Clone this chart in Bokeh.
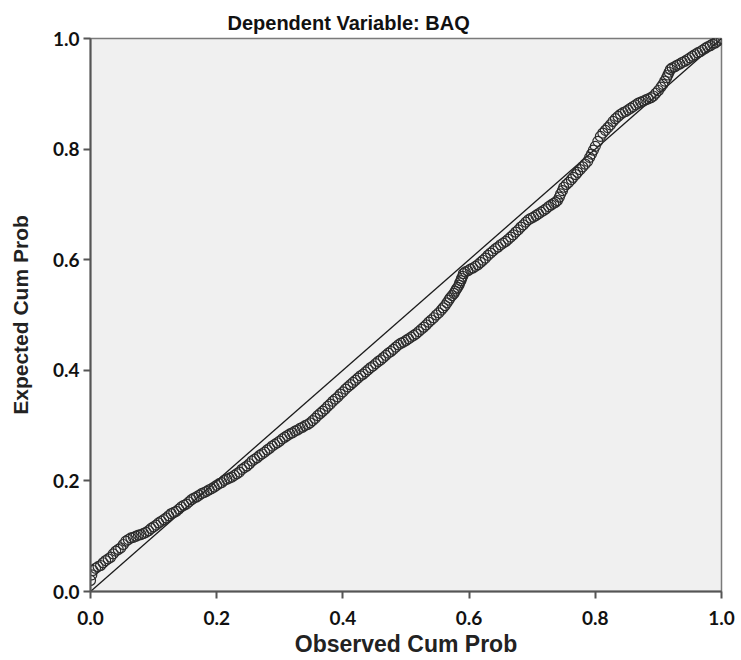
from bokeh.plotting import figure
from bokeh.models import Range1d, FixedTicker
from bokeh.embed import file_html
from bokeh.resources import INLINE

title_text = "Dependent Variable: BAQ"
x_label = "Observed Cum Prob"
y_label = "Expected Cum Prob"
tick_values = [0.0, 0.2, 0.4, 0.6, 0.8, 1.0]
tick_labels = ["0.0", "0.2", "0.4", "0.6", "0.8", "1.0"]

observed = [
    0.000, 0.002, 0.004, 0.008, 0.012, 0.016, 0.020, 0.024, 0.028, 0.032,
    0.036, 0.040, 0.044, 0.048, 0.052, 0.056, 0.060, 0.064, 0.068, 0.072,
    0.076, 0.080, 0.084, 0.088, 0.092, 0.096, 0.100, 0.104, 0.108, 0.112,
    0.116, 0.120, 0.124, 0.128, 0.132, 0.136, 0.140, 0.144, 0.148, 0.152,
    0.156, 0.160, 0.164, 0.168, 0.172, 0.176, 0.180, 0.184, 0.188, 0.192,
    0.196, 0.200, 0.204, 0.208, 0.212, 0.216, 0.220, 0.224, 0.228, 0.232,
    0.236, 0.240, 0.244, 0.248, 0.252, 0.256, 0.260, 0.264, 0.268, 0.272,
    0.276, 0.280, 0.284, 0.288, 0.292, 0.296, 0.300, 0.304, 0.308, 0.312,
    0.316, 0.320, 0.324, 0.328, 0.332, 0.336, 0.340, 0.344, 0.348, 0.352,
    0.356, 0.360, 0.364, 0.368, 0.372, 0.376, 0.380, 0.384, 0.388, 0.392,
    0.396, 0.400, 0.404, 0.408, 0.412, 0.416, 0.420, 0.424, 0.428, 0.432,
    0.436, 0.440, 0.444, 0.448, 0.452, 0.456, 0.460, 0.464, 0.468, 0.472,
    0.476, 0.480, 0.484, 0.488, 0.492, 0.496, 0.500, 0.504, 0.508, 0.512,
    0.516, 0.520, 0.524, 0.528, 0.532, 0.536, 0.540, 0.544, 0.548, 0.552,
    0.556, 0.559, 0.562, 0.565, 0.568, 0.570, 0.573, 0.576, 0.578, 0.580,
    0.582, 0.584, 0.585, 0.587, 0.588, 0.590, 0.591, 0.594, 0.598, 0.602,
    0.606, 0.610, 0.614, 0.618, 0.622, 0.626, 0.630, 0.634, 0.638, 0.642,
    0.646, 0.650, 0.654, 0.658, 0.662, 0.666, 0.670, 0.674, 0.678, 0.682,
    0.686, 0.690, 0.694, 0.698, 0.702, 0.706, 0.710, 0.714, 0.718, 0.722,
    0.726, 0.730, 0.734, 0.737, 0.740, 0.743, 0.745, 0.748, 0.750, 0.754,
    0.758, 0.762, 0.765, 0.769, 0.772, 0.776, 0.780, 0.784, 0.788, 0.791,
    0.794, 0.797, 0.800, 0.804, 0.808, 0.812, 0.816, 0.820, 0.824, 0.828,
    0.832, 0.836, 0.840, 0.844, 0.848, 0.852, 0.856, 0.860, 0.864, 0.868,
    0.872, 0.876, 0.880, 0.884, 0.888, 0.892, 0.896, 0.900, 0.904, 0.907,
    0.910, 0.913, 0.915, 0.917, 0.919, 0.922, 0.926, 0.930, 0.934, 0.938,
    0.942, 0.946, 0.950, 0.954, 0.958, 0.962, 0.966, 0.970, 0.974, 0.978,
    0.982, 0.986, 0.990, 0.993, 0.996, 1.000]
expected = [
    0.020, 0.030, 0.038, 0.042, 0.045, 0.047, 0.052, 0.056, 0.059, 0.062,
    0.068, 0.073, 0.076, 0.079, 0.085, 0.091, 0.094, 0.097, 0.098, 0.100,
    0.102, 0.103, 0.105, 0.107, 0.110, 0.114, 0.117, 0.120, 0.124, 0.127,
    0.130, 0.133, 0.137, 0.141, 0.143, 0.145, 0.149, 0.153, 0.156, 0.158,
    0.162, 0.166, 0.169, 0.171, 0.174, 0.177, 0.179, 0.181, 0.184, 0.186,
    0.189, 0.192, 0.195, 0.197, 0.201, 0.203, 0.205, 0.207, 0.210, 0.213,
    0.216, 0.221, 0.224, 0.227, 0.231, 0.236, 0.239, 0.242, 0.246, 0.249,
    0.252, 0.256, 0.259, 0.263, 0.266, 0.269, 0.272, 0.276, 0.279, 0.282,
    0.285, 0.287, 0.290, 0.292, 0.295, 0.297, 0.300, 0.302, 0.305, 0.309,
    0.313, 0.318, 0.322, 0.326, 0.330, 0.335, 0.339, 0.344, 0.348, 0.352,
    0.357, 0.361, 0.366, 0.370, 0.374, 0.378, 0.382, 0.386, 0.390, 0.393,
    0.397, 0.401, 0.405, 0.408, 0.412, 0.416, 0.419, 0.423, 0.427, 0.431,
    0.434, 0.438, 0.442, 0.446, 0.449, 0.451, 0.454, 0.457, 0.460, 0.463,
    0.466, 0.470, 0.474, 0.478, 0.482, 0.487, 0.491, 0.495, 0.500, 0.504,
    0.509, 0.513, 0.517, 0.522, 0.527, 0.531, 0.535, 0.539, 0.543, 0.547,
    0.550, 0.554, 0.558, 0.562, 0.566, 0.570, 0.575, 0.578, 0.580, 0.583,
    0.585, 0.588, 0.591, 0.595, 0.599, 0.603, 0.608, 0.612, 0.616, 0.620,
    0.623, 0.627, 0.630, 0.633, 0.637, 0.641, 0.645, 0.650, 0.654, 0.659,
    0.663, 0.668, 0.672, 0.675, 0.677, 0.680, 0.683, 0.686, 0.689, 0.692,
    0.696, 0.699, 0.702, 0.704, 0.707, 0.713, 0.719, 0.725, 0.731, 0.736,
    0.740, 0.745, 0.749, 0.754, 0.758, 0.763, 0.768, 0.773, 0.778, 0.785,
    0.791, 0.798, 0.805, 0.814, 0.823, 0.829, 0.834, 0.839, 0.844, 0.850,
    0.855, 0.859, 0.863, 0.866, 0.868, 0.871, 0.874, 0.877, 0.880, 0.883,
    0.885, 0.887, 0.889, 0.891, 0.893, 0.896, 0.901, 0.906, 0.912, 0.917,
    0.923, 0.929, 0.934, 0.939, 0.944, 0.947, 0.949, 0.952, 0.954, 0.957,
    0.959, 0.962, 0.965, 0.968, 0.971, 0.974, 0.976, 0.979, 0.982, 0.985,
    0.987, 0.990, 0.992, 0.995, 0.997, 1.000]
ref_line_x = [0.0, 1.0]
ref_line_y = [0.0, 1.0]

p = figure(width=741, height=660, output_backend="svg", toolbar_location=None,
           x_range=Range1d(0, 1), y_range=Range1d(0, 1),
           min_border_left=90, min_border_right=20, min_border_top=38,
           min_border_bottom=69, title=title_text)

p.background_fill_color = "#f0f0f0"
p.border_fill_color = "white"
p.outline_line_color = "#7a7a7a"
p.outline_line_width = 1.5
p.xgrid.visible = False
p.ygrid.visible = False

p.title.text_font = "Liberation Sans"
p.title.text_font_size = "20px"
p.title.text_font_style = "bold"
p.title.text_color = "#111111"
p.title.align = "left"
p.title.offset = 137
p.title.standoff = 10

for ax in (p.xaxis[0], p.yaxis[0]):
    ax.ticker = FixedTicker(ticks=tick_values)
    ax.major_label_overrides = dict(zip(tick_values, tick_labels))
    ax.minor_tick_line_color = None
    ax.major_tick_in = 0
    ax.major_tick_out = 7
    ax.major_tick_line_color = "#555555"
    ax.major_tick_line_width = 2
    ax.axis_line_color = "#555555"
    ax.axis_line_width = 2
    ax.major_label_text_font = "Lato"
    ax.major_label_text_font_style = "bold"
    ax.major_label_text_font_size = "19px"
    ax.major_label_text_color = "#111111"

p.xaxis.axis_label = x_label
p.xaxis.axis_label_text_font = "Liberation Sans"
p.xaxis.axis_label_text_font_style = "bold"
p.xaxis.axis_label_text_font_size = "23px"
p.xaxis.axis_label_text_color = "#222222"
p.xaxis.major_label_standoff = 12
p.xaxis.axis_label_standoff = 3

p.yaxis.axis_label = y_label
p.yaxis.axis_label_text_font = "Liberation Sans"
p.yaxis.axis_label_text_font_style = "bold"
p.yaxis.axis_label_text_font_size = "21px"
p.yaxis.axis_label_text_color = "#222222"
p.yaxis.major_label_standoff = 4
p.yaxis.axis_label_standoff = 18

p.line(ref_line_x, ref_line_y, line_color="#1a1a1a", line_width=1.3)
p.scatter(observed, expected, marker="circle", size=10, fill_color=None,
          line_color="#2b2b2b", line_width=1.2)

open("out.html", "w").write(file_html(p, INLINE))
